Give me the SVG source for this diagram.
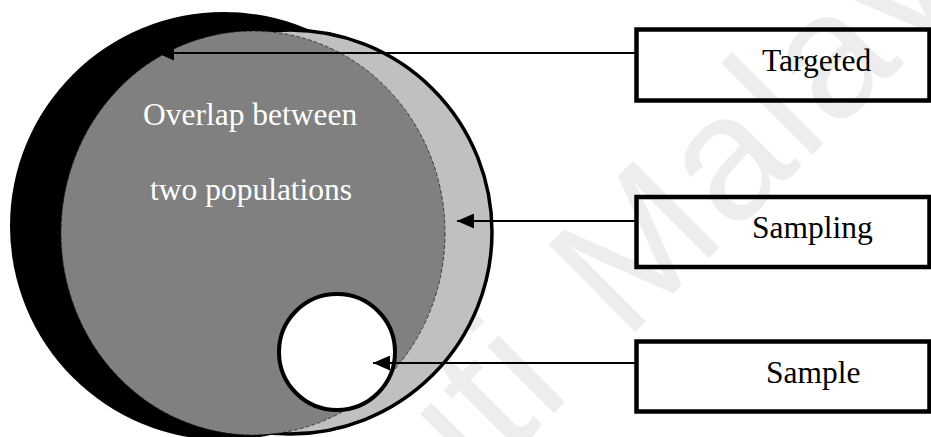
<svg xmlns="http://www.w3.org/2000/svg" width="931" height="437" viewBox="0 0 931 437">
  <style>
    .label { font-family: "Liberation Serif", "Times New Roman", serif; font-size: 31.5px; fill: #000; }
    .inner { font-family: "Liberation Serif", "Times New Roman", serif; font-size: 31.5px; fill: #fff; }
    .box { fill: none; stroke: #000; stroke-width: 4.5; }
    .link { stroke: #000; stroke-width: 2; fill: none; }
    .mark { font-family: "Liberation Sans", Arial, sans-serif; font-size: 178px; letter-spacing: 3px; fill: #ededed; }
  </style>
  <defs>
    <!-- arrowhead: tip sits exactly on the line end -->
    <marker id="head" viewBox="0 0 17 15" refX="17" refY="7.5" markerWidth="17" markerHeight="15" markerUnits="userSpaceOnUse" orient="auto">
      <path d="M0,0 L17,7.5 L0,15 Z" fill="#000"/>
    </marker>
  </defs>

  <rect width="931" height="437" fill="#fff"/>

  <!-- background watermark -->
  <g id="watermark" transform="translate(625,342) rotate(-45)">
    <text class="mark" x="-70" y="0" text-anchor="end">Universiti</text>
    <text class="mark" x="0" y="0">Malaya</text>
  </g>

  <!-- targeted population -->
  <g id="targeted-population">
    <circle cx="224" cy="226" r="214" fill="#000"/>
  </g>

  <!-- sampling population -->
  <g id="sampling-population">
    <circle cx="290" cy="232" r="202" fill="#c0c0c0" stroke="#000" stroke-width="3.5"/>
  </g>

  <!-- overlap of both populations -->
  <g id="overlap">
    <ellipse cx="253" cy="233" rx="192" ry="202" fill="#808080" stroke="#222" stroke-width="0.8" stroke-dasharray="4 2"/>
    <text class="inner" x="143" y="125">Overlap between</text>
    <text class="inner" x="150" y="200">two populations</text>
  </g>

  <!-- sample -->
  <g id="sample-circle">
    <circle cx="337" cy="352" r="58" fill="#fff" stroke="#000" stroke-width="4"/>
  </g>

  <!-- connectors from labels to regions -->
  <g id="connectors">
    <line class="link" x1="636" y1="53" x2="157" y2="53" marker-end="url(#head)"/>
    <line class="link" x1="636" y1="221" x2="457" y2="221" marker-end="url(#head)"/>
    <line class="link" x1="636" y1="363" x2="373" y2="363" marker-end="url(#head)"/>
  </g>

  <!-- label boxes -->
  <g id="label-targeted">
    <rect class="box" x="636.5" y="29.5" width="293" height="71"/>
    <text class="label" x="762" y="71">Targeted</text>
  </g>
  <g id="label-sampling">
    <rect class="box" x="636.5" y="197" width="293" height="70"/>
    <text class="label" x="752" y="238">Sampling</text>
  </g>
  <g id="label-sample">
    <rect class="box" x="636.5" y="341.5" width="293" height="70"/>
    <text class="label" x="766" y="383">Sample</text>
  </g>
</svg>
